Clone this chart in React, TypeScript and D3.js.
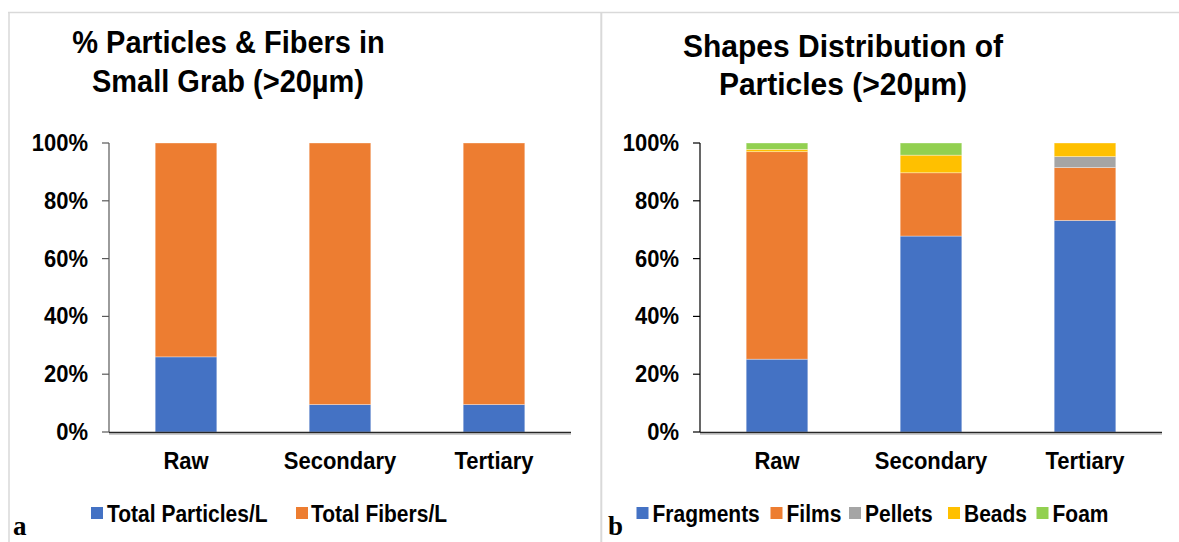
import React from "react";
import * as d3 from "d3";

const categories = ["Raw", "Secondary", "Tertiary"];
const yTicks = [0, 20, 40, 60, 80, 100];

// Chart a
const seriesA = ["Total Particles/L", "Total Fibers/L"];
const particlesPct = [26, 9.5, 9.5];
const fibersPct = [74, 90.5, 90.5];
const colorsA = ["#4472C4", "#ED7D31"];

// Chart b
const seriesB = ["Fragments", "Films", "Pellets", "Beads", "Foam"];
const fragments = [25.2, 67.8, 73.2];
const films = [71.8, 21.9, 18.3];
const pellets = [0, 0, 3.8];
const beads = [0.8, 6.1, 4.7];
const foam = [2.2, 4.2, 0];
const colorsB = ["#4472C4", "#ED7D31", "#A5A5A5", "#FFC000", "#92D050"];

const FONT = "'Liberation Sans', Arial, sans-serif";

// bold text, slightly stretched vertically about its baseline
function SText({
  x,
  y,
  size,
  anchor = "start",
  sy = 1.08,
  children,
}: {
  x: number;
  y: number;
  size: number;
  anchor?: string;
  sy?: number;
  children: React.ReactNode;
}) {
  return (
    <text
      x={x}
      y={0}
      transform={`translate(0,${y}) scale(1,${sy})`}
      textAnchor={anchor}
      fontFamily={FONT}
      fontWeight="bold"
      fontSize={size}
      fill="#000"
    >
      {children}
    </text>
  );
}

type PanelProps = {
  x0: number;
  x1: number;
  keys: string[];
  values: number[][];
  colors: string[];
  axisColor: string;
};

function Panel({ x0, x1, keys, values, colors, axisColor }: PanelProps) {
  const y = d3.scaleLinear().domain([0, 100]).range([432, 143]);
  const x = d3
    .scaleBand<string>()
    .domain(categories)
    .range([x0, x1])
    .paddingInner(0.6)
    .paddingOuter(0.3);
  const rows = categories.map((c, i) => {
    const r: Record<string, any> = { cat: c };
    keys.forEach((k, j) => (r[k] = values[j][i]));
    return r;
  });
  const stacked = d3.stack<Record<string, any>>().keys(keys)(rows);
  return (
    <g>
      {stacked.map((layer, j) => (
        <g key={keys[j]} fill={colors[j]}>
          {layer.map((d, i) =>
            d[1] - d[0] > 0 ? (
              <rect
                key={i}
                x={x(categories[i])!}
                y={y(d[1])}
                width={x.bandwidth()}
                height={y(d[0]) - y(d[1])}
                stroke="#ffffff"
                strokeOpacity={0.45}
                strokeWidth={0.75}
              />
            ) : null
          )}
        </g>
      ))}
      {/* y axis */}
      <line x1={x0} x2={x0} y1={y(100)} y2={y(0)} stroke={axisColor} strokeWidth={1.2} />
      {yTicks.map((t) => (
        <g key={t}>
          <line x1={x0 - 7} x2={x0} y1={y(t)} y2={y(t)} stroke={axisColor} strokeWidth={1.2} />
          <SText x={x0 - 21} y={y(t) + 8} size={22} anchor="end">
            {t}%
          </SText>
        </g>
      ))}
      {/* x axis */}
      <line x1={x0} x2={x1} y1={y(0) + 0.5} y2={y(0) + 0.5} stroke="#262626" strokeWidth={1.6} />
      <line x1={x0} x2={x1} y1={y(0) + 2} y2={y(0) + 2} stroke="#9a9a9a" strokeWidth={1} />
      {categories.map((c) => (
        <SText key={c} x={x(c)! + x.bandwidth() / 2} y={469} size={22} anchor="middle">
          {c}
        </SText>
      ))}
    </g>
  );
}

type LegendItem = { label: string; color: string; sx: number; tx: number };

function Legend({ items }: { items: LegendItem[] }) {
  return (
    <g>
      {items.map((it) => (
        <g key={it.label}>
          <rect x={it.sx} y={507} width={12} height={12} fill={it.color} />
          <SText x={it.tx} y={521.5} size={21} sy={1.1}>
            {it.label}
          </SText>
        </g>
      ))}
    </g>
  );
}

export default function App() {
  const legendA: LegendItem[] = [
    { label: seriesA[0], color: colorsA[0], sx: 91, tx: 107 },
    { label: seriesA[1], color: colorsA[1], sx: 296, tx: 311 },
  ];
  const bStarts = [636.5, 770.5, 849, 948, 1036.5];
  const legendB: LegendItem[] = seriesB.map((s, i) => ({
    label: s,
    color: colorsB[i],
    sx: bStarts[i],
    tx: bStarts[i] + 16,
  }));
  return (
    <svg
      width={1179}
      height={542}
      style={{ position: "absolute", left: 0, top: 0, background: "#fff" }}
    >
      <rect x={0} y={0} width={1179} height={542} fill="#fff" />
      {/* table borders */}
      <line x1={8} x2={1179} y1={12.5} y2={12.5} stroke="#d9d9d9" strokeWidth={1.5} />
      <line x1={9} x2={9} y1={12} y2={542} stroke="#d9d9d9" strokeWidth={1.5} />
      <line x1={601.3} x2={601.3} y1={12} y2={542} stroke="#d9d9d9" strokeWidth={2} />

      {/* titles */}
      <SText x={228.5} y={53} size={29} anchor="middle" sy={1.1}>
        % Particles &amp; Fibers in
      </SText>
      <SText x={228} y={92} size={29} anchor="middle" sy={1.1}>
        Small Grab (&gt;20µm)
      </SText>
      <SText x={843} y={56.5} size={30} anchor="middle" sy={1.04}>
        Shapes Distribution of
      </SText>
      <SText x={843} y={95} size={30} anchor="middle" sy={1.04}>
        Particles (&gt;20µm)
      </SText>

      <Panel
        x0={109}
        x1={571}
        keys={seriesA}
        values={[particlesPct, fibersPct]}
        colors={colorsA}
        axisColor="#595959"
      />
      <Panel
        x0={700}
        x1={1162}
        keys={seriesB}
        values={[fragments, films, pellets, beads, foam]}
        colors={colorsB}
        axisColor="#000"
      />

      <Legend items={legendA} />
      <Legend items={legendB} />

      <text x={13} y={535} fontFamily="'Liberation Serif', 'Times New Roman', serif" fontWeight="bold" fontSize={27} fill="#000">
        a
      </text>
      <text x={608} y={535} fontFamily="'Liberation Serif', 'Times New Roman', serif" fontWeight="bold" fontSize={27} fill="#000">
        b
      </text>
    </svg>
  );
}
